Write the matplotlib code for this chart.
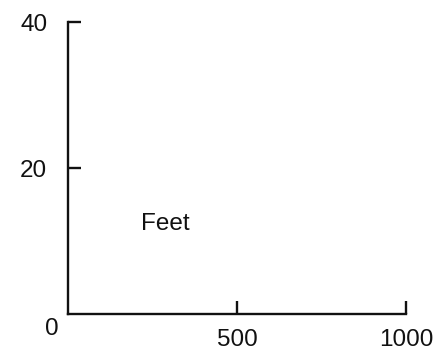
import matplotlib
matplotlib.use("Agg")
import matplotlib.pyplot as plt

# axis ranges and tick marks
x_ticks = [500, 1000]
y_ticks = [20, 40]
x_range = [0, 1000]
y_range = [0, 40]
origin_label = "0"
inner_label = "Feet"

plt.rcParams["font.family"] = ["Liberation Sans", "DejaVu Sans"]
ink = "#111111"
fsize = 17.5

fig = plt.figure(figsize=(4.46, 3.61), dpi=100)
ax = fig.add_axes([0.1525, 0.13, 0.758, 0.809])
ax.set_xlim(x_range)
ax.set_ylim(y_range)

for side in ("top", "right"):
    ax.spines[side].set_visible(False)
for side in ("left", "bottom"):
    ax.spines[side].set_linewidth(1.7)
    ax.spines[side].set_color(ink)

ax.set_xticks(x_ticks)
ax.set_yticks(y_ticks)
ax.set_xticklabels([str(v) for v in x_ticks])
ax.set_yticklabels([str(v) for v in y_ticks])
ax.tick_params(axis="both", direction="in", length=9.5, width=1.7,
               color=ink, labelcolor=ink, labelsize=fsize)
ax.tick_params(axis="x", pad=10.5)
ax.tick_params(axis="y", pad=15)

# shared zero at the corner
ax.annotate(origin_label, xy=(0, 0), xytext=(-11.5, -11), textcoords="offset points",
            ha="center", va="center", fontsize=fsize, color=ink)

ax.text(288, 12.4, inner_label, ha="center", va="center", fontsize=fsize, color=ink)

fig.savefig("out.png", dpi=100, facecolor="white")
